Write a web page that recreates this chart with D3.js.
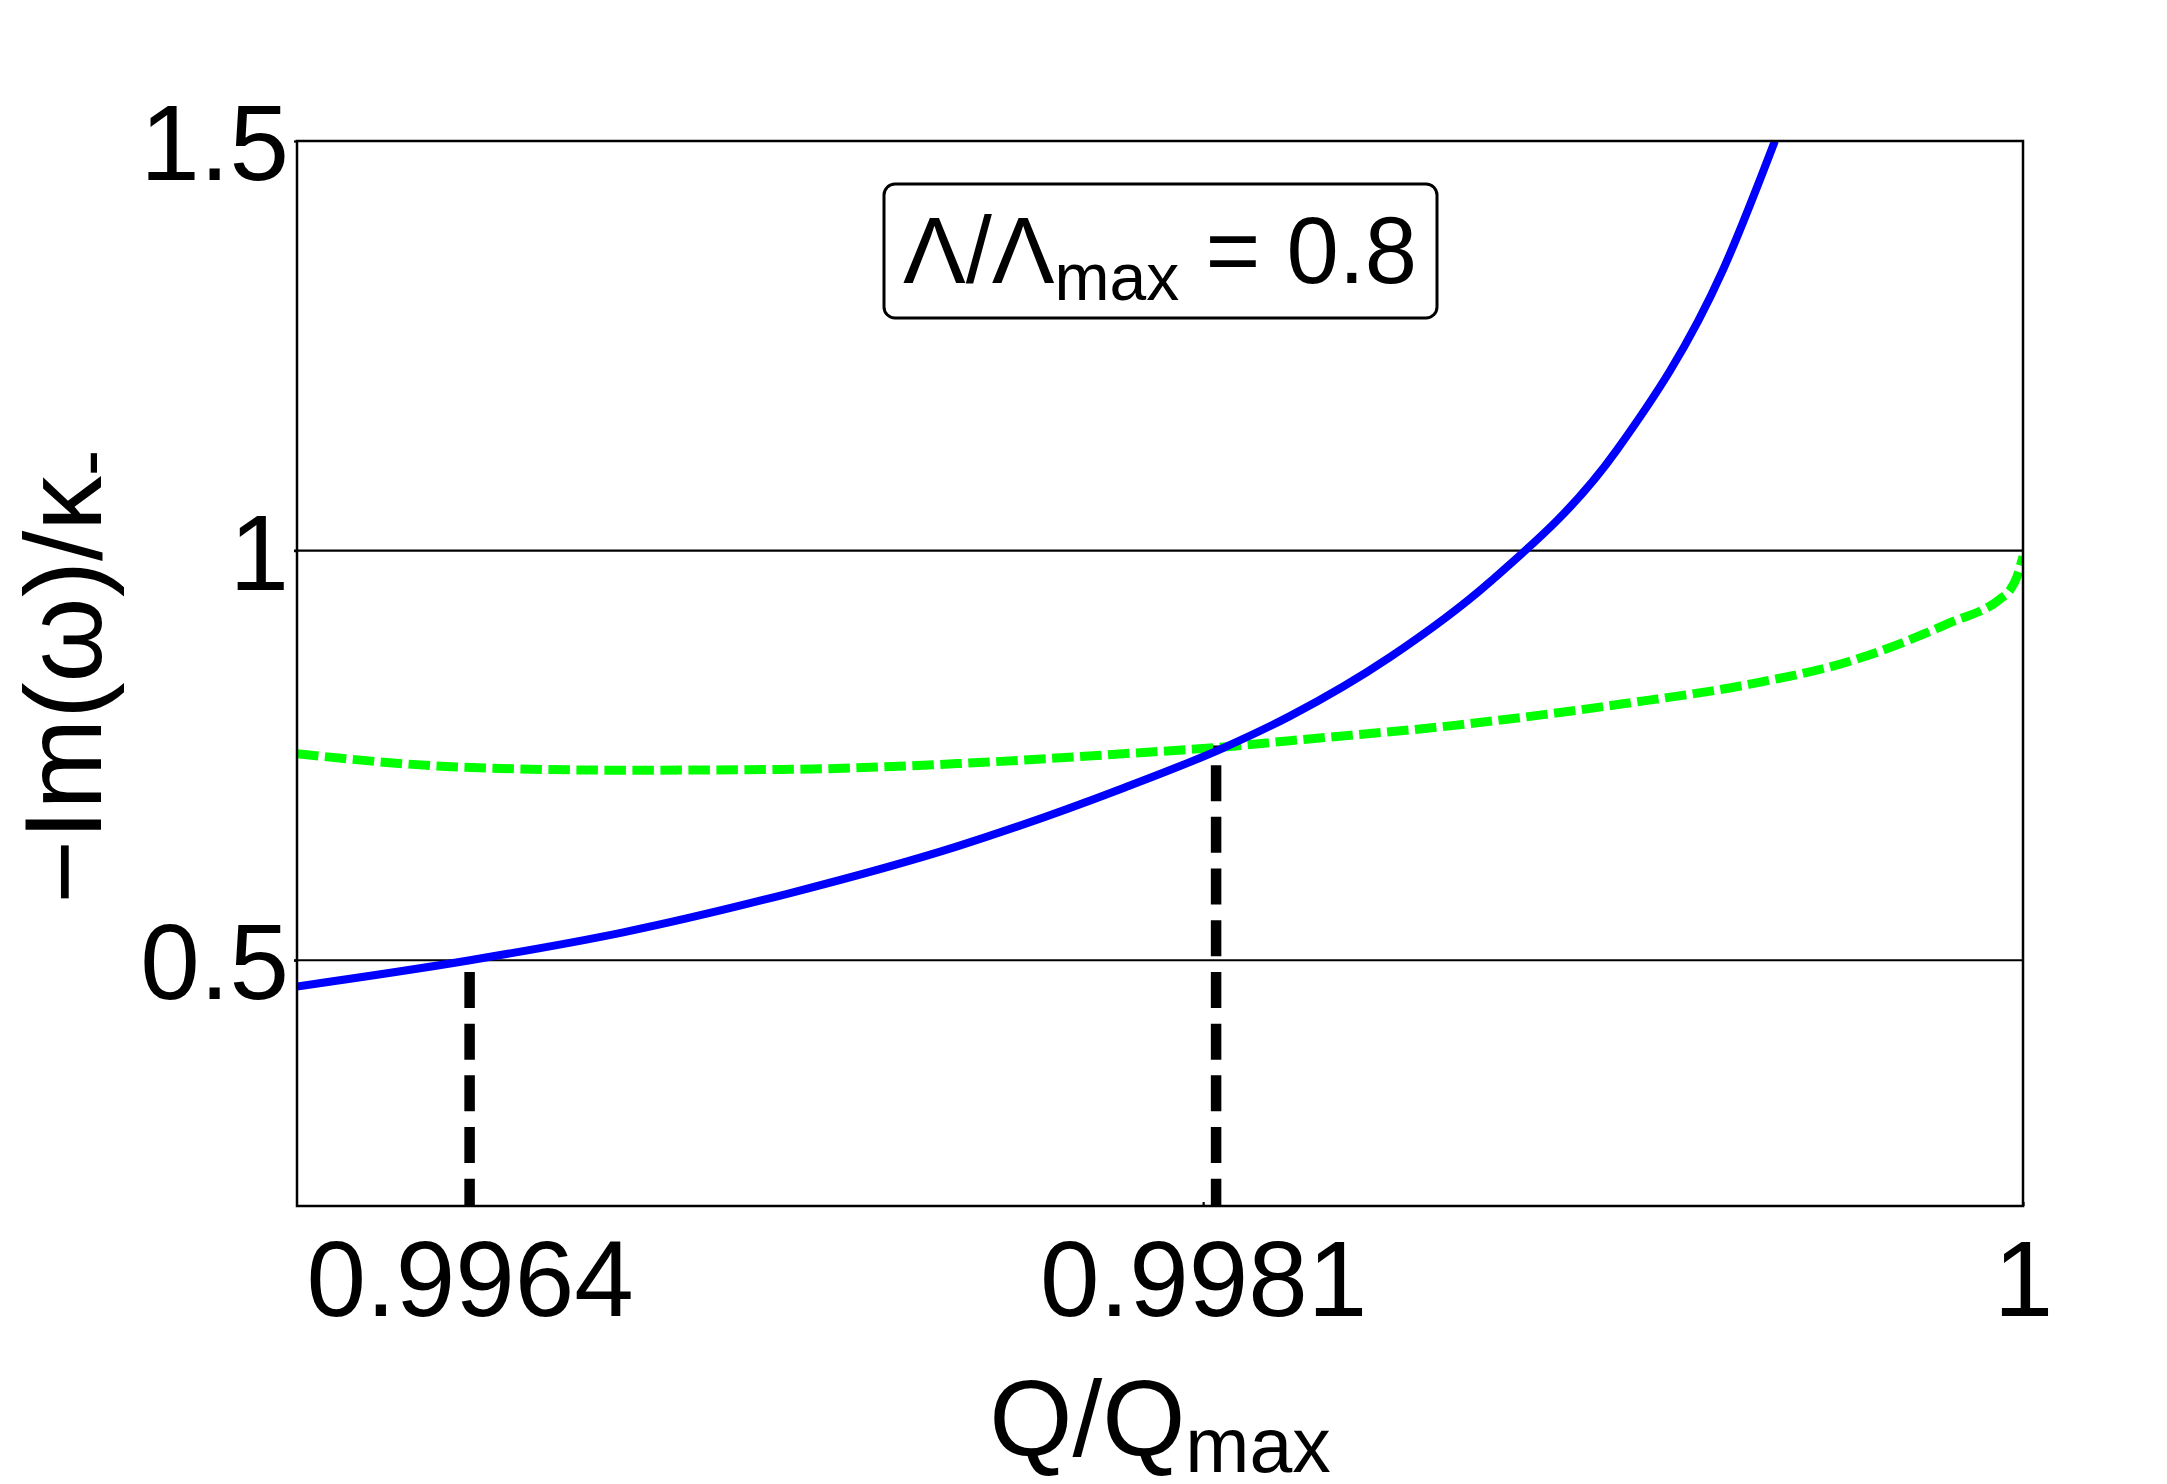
<!DOCTYPE html>
<html>
  <head>
    <meta charset="utf-8" />
    <title>Im(omega) vs Q</title>
    <script src="https://cdn.jsdelivr.net/npm/d3@7"></script>
    <style type="text/css">
      body { margin: 0; background: #fff; }
      svg text { font-family: 'Liberation Sans', Arial, sans-serif; fill: #000; }
    </style>
  </head>

  <body>
    <svg id="chart" width="2167" height="1484"></svg>
    <script type="text/javascript">
      // Q/Qmax values and -Im(omega)/kappa for the two modes
      var blueQ = [0.996000, 0.996401, 0.996756, 0.997143, 0.997530, 0.997914, 0.998146, 0.998301,
                   0.998533, 0.998765, 0.999059, 0.999305, 0.999425];
      var blueY = [0.468, 0.500, 0.534, 0.582, 0.639, 0.710, 0.759, 0.798,
                   0.870, 0.962, 1.123, 1.343, 1.500];

      var greenQ = [0.996000, 0.996371, 0.996756, 0.997143, 0.997530, 0.997914, 0.998162, 0.998301,
                    0.998688, 0.999073, 0.999367, 0.999599, 0.999831, 0.999947, 0.999970, 0.999986,
                    0.999993, 1.0];
      var greenY = [0.752, 0.736, 0.732, 0.733, 0.740, 0.752, 0.761, 0.768,
                    0.787, 0.813, 0.837, 0.865, 0.912, 0.941, 0.952, 0.968,
                    0.980, 0.993];

      // vertical dashed markers (drawn up from 0, like the original)
      var markQ = [0.9964, 0.99813];
      var markY = [0.5, 0.762];

      var xTicks = [0.9964, 0.9981, 1];
      var xTickLabels = ['0.9964', '0.9981', '1'];
      var yTicks = [0.5, 1, 1.5];
      var yTickLabels = ['0.5', '1', '1.5'];
      var gridY = [0.5, 1];

      var svg = d3.select('#chart');
      var L = 297, R = 2023, T = 141, B = 1206;

      var scX = d3.scaleLinear().domain([0.996, 1]).range([L, R]);
      var scY = d3.scaleLinear().domain([0.2, 1.5]).range([B, T]);

      svg.append('rect').attr('width', 2167).attr('height', 1484).attr('fill', '#fff');

      svg.append('clipPath').attr('id', 'plotclip')
        .append('rect').attr('x', L).attr('y', T).attr('width', R - L).attr('height', B - T);

      // grid lines
      svg.append('g').selectAll('line').data(gridY).enter().append('line')
        .attr('x1', L - 3).attr('x2', R)
        .attr('y1', (d) => scY(d)).attr('y2', (d) => scY(d))
        .attr('stroke', '#000').attr('stroke-width', 2.2);

      var plot = svg.append('g').attr('clip-path', 'url(#plotclip)');

      // dashed black markers
      plot.selectAll('line.mark').data(markQ).enter().append('line')
        .attr('class', 'mark')
        .attr('x1', (d) => scX(d)).attr('x2', (d) => scX(d))
        .attr('y1', scY(0)).attr('y2', (d, i) => scY(markY[i]))
        .attr('stroke', '#000').attr('stroke-width', 10.5)
        .attr('stroke-dasharray', '36,15.7');

      var lnMkr = function (qs, ys) {
        return d3.line().curve(d3.curveMonotoneX)
          .x((d, i) => scX(qs[i])).y((d, i) => scY(ys[i]))(qs);
      };

      plot.append('path').attr('d', lnMkr(greenQ, greenY))
        .attr('fill', 'none').attr('stroke', '#00ff00').attr('stroke-width', 9)
        .attr('stroke-dasharray', '21.5,6.5');

      plot.append('path').attr('d', lnMkr(blueQ, blueY))
        .attr('fill', 'none').attr('stroke', '#0000ff').attr('stroke-width', 8);

      // axes
      var axX = svg.append('g').attr('transform', 'translate(0,' + B + ')')
        .call(d3.axisBottom(scX).tickValues(xTicks)
          .tickFormat((d, i) => xTickLabels[i]).tickSize(-4).tickPadding(34));
      var axY = svg.append('g').attr('transform', 'translate(' + L + ',0)')
        .call(d3.axisLeft(scY).tickValues(yTicks)
          .tickFormat((d, i) => yTickLabels[i]).tickSize(3).tickPadding(5));
      [axX, axY].forEach(function (ax) {
        ax.select('.domain').remove();
        ax.selectAll('.tick line').attr('stroke', '#000').attr('stroke-width', 2.2);
        ax.selectAll('.tick text').attr('font-size', 107)
          .attr('font-family', "'Liberation Sans', Arial, sans-serif");
      });
      axY.selectAll('.tick text').attr('dy', '0.36em');

      // frame
      svg.append('rect').attr('x', L).attr('y', T).attr('width', R - L).attr('height', B - T)
        .attr('fill', 'none').attr('stroke', '#000').attr('stroke-width', 2.5);

      // legend box
      var cx = (L + R) / 2;
      svg.append('rect').attr('x', 884).attr('y', 184).attr('width', 553).attr('height', 134)
        .attr('rx', 11).attr('fill', '#fff').attr('stroke', '#000').attr('stroke-width', 3);
      var lg = svg.append('text').attr('x', cx).attr('y', 283)
        .attr('text-anchor', 'middle').attr('font-size', 94);
      lg.append('tspan').text('Λ/Λ');
      lg.append('tspan').attr('font-size', 66).attr('dy', 17).text('max');
      lg.append('tspan').attr('dy', -17).text(' = 0.8');

      // axis titles
      var xl = svg.append('text').attr('x', cx).attr('y', 1456)
        .attr('text-anchor', 'middle').attr('font-size', 107);
      xl.append('tspan').text('Q/Q');
      xl.append('tspan').attr('font-size', 77).attr('dy', 16).text('max');

      var yl = svg.append('text')
        .attr('transform', 'translate(101,' + ((T + B) / 2 + 3) + ') rotate(-90)')
        .attr('text-anchor', 'middle').attr('font-size', 109);
      yl.append('tspan').text('−Im(ω)/κ');
      yl.append('tspan').attr('font-size', 80).attr('dy', 14).text('-');
    </script>
  </body>
</html>
